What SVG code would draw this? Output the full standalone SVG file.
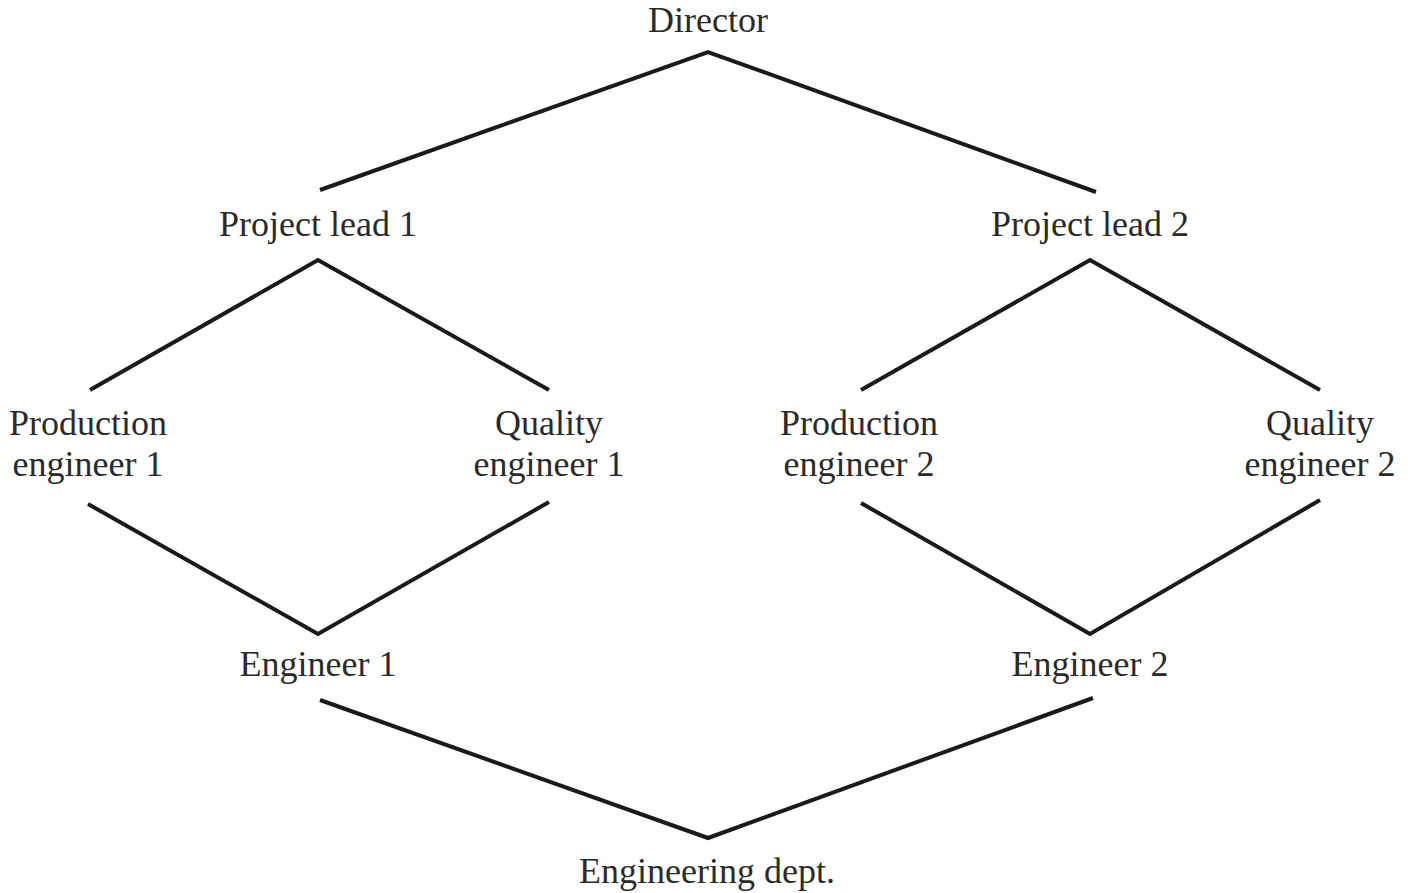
<svg xmlns="http://www.w3.org/2000/svg" width="1408" height="893" viewBox="0 0 1408 893">
  <style>
    .lbl { font-family: "Liberation Serif", "Times New Roman", serif; font-size: 36px; fill: #2a2a2a; text-anchor: middle; }
    .edge { fill: none; stroke: #1a1a1a; stroke-width: 4; stroke-linejoin: miter; stroke-linecap: butt; }
  </style>
  <rect width="1408" height="893" fill="#ffffff"/>

  <g id="connectors">
    <polyline class="edge" points="320,190 708,52 1096,192"/>
    <polyline class="edge" points="90,390 318,260 549,390"/>
    <polyline class="edge" points="861,390 1090,260 1320,390"/>
    <polyline class="edge" points="88,504 318,634 549,502"/>
    <polyline class="edge" points="861,503 1090,634 1320,500"/>
    <polyline class="edge" points="320,700 708,838 1093,698"/>
  </g>

  <g id="director"><text class="lbl" x="708" y="32">Director</text></g>
  <g id="project-lead-1"><text class="lbl" x="318" y="236">Project lead 1</text></g>
  <g id="project-lead-2"><text class="lbl" x="1090" y="236">Project lead 2</text></g>
  <g id="production-engineer-1">
    <text class="lbl" x="88" y="435">Production</text>
    <text class="lbl" x="88" y="476">engineer 1</text>
  </g>
  <g id="quality-engineer-1">
    <text class="lbl" x="549" y="435">Quality</text>
    <text class="lbl" x="549" y="476">engineer 1</text>
  </g>
  <g id="production-engineer-2">
    <text class="lbl" x="859" y="435">Production</text>
    <text class="lbl" x="859" y="476">engineer 2</text>
  </g>
  <g id="quality-engineer-2">
    <text class="lbl" x="1320" y="435">Quality</text>
    <text class="lbl" x="1320" y="476">engineer 2</text>
  </g>
  <g id="engineer-1"><text class="lbl" x="318" y="676">Engineer 1</text></g>
  <g id="engineer-2"><text class="lbl" x="1090" y="676">Engineer 2</text></g>
  <g id="engineering-dept"><text class="lbl" x="707" y="883">Engineering dept.</text></g>
</svg>
